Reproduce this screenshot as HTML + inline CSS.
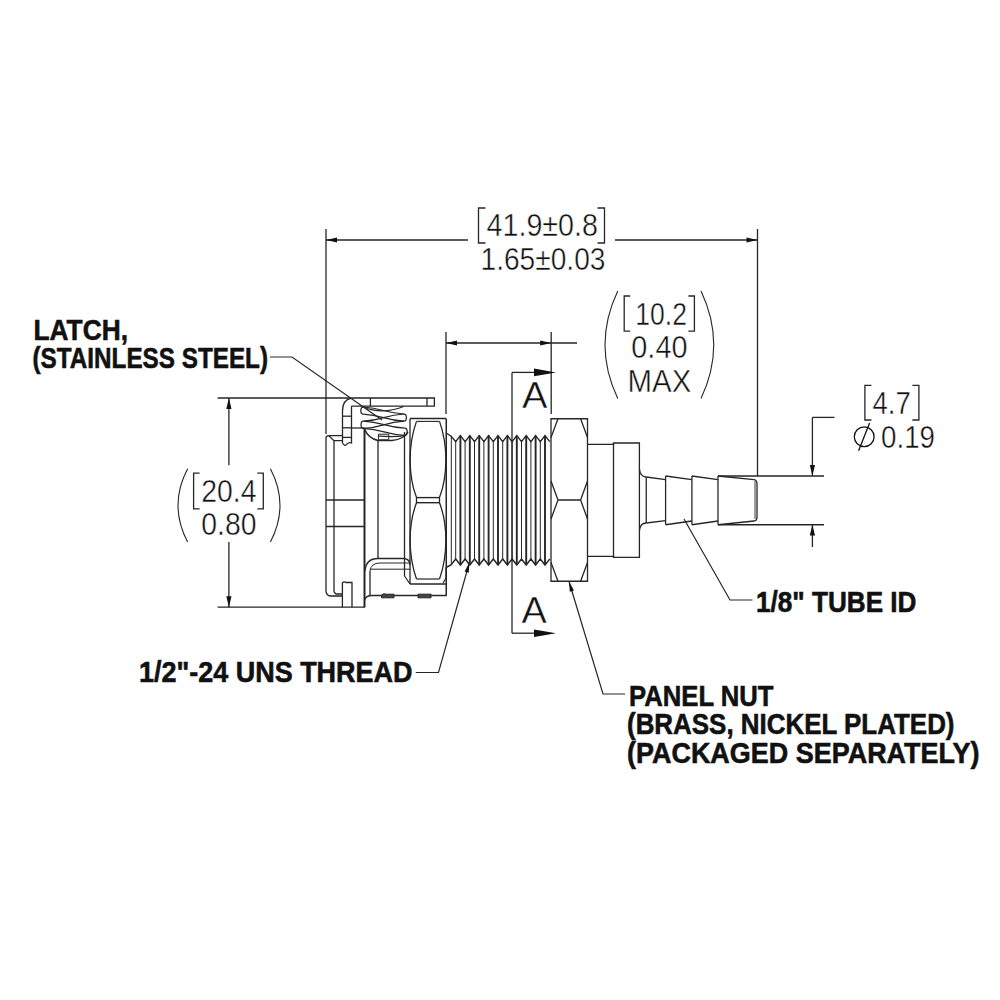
<!DOCTYPE html>
<html><head><meta charset="utf-8"><style>
html,body{margin:0;padding:0;background:#fff;}
svg{display:block;}
text{font-family:"Liberation Sans",sans-serif;}
</style></head><body>
<svg width="1000" height="1000" viewBox="0 0 1000 1000">
<rect width="1000" height="1000" fill="#fff"/>
<line x1="326" y1="229" x2="326" y2="434" stroke="#262626" stroke-width="1.3"/>
<line x1="757.5" y1="229" x2="757.5" y2="476" stroke="#262626" stroke-width="1.3"/>
<line x1="326" y1="240" x2="468" y2="240" stroke="#262626" stroke-width="1.3"/>
<line x1="615" y1="240" x2="757.5" y2="240" stroke="#262626" stroke-width="1.3"/>
<polygon points="326,240 337.0,237.4 337.0,242.6" fill="#111"/>
<polygon points="757.5,240 746.5,242.6 746.5,237.4" fill="#111"/>
<path d="M485.5,208 H478.5 V243 H485.5" stroke="#262626" stroke-width="1.3" fill="none"/>
<path d="M597.5,208 H604.5 V243 H597.5" stroke="#262626" stroke-width="1.3" fill="none"/>
<text x="486.5" y="236.1" font-size="31.8" font-weight="normal" textLength="111.5" lengthAdjust="spacingAndGlyphs" fill="#111" stroke="#fff" stroke-width="0.45">41.9±0.8</text>
<text x="480.5" y="269.7" font-size="31.8" font-weight="normal" textLength="125.0" lengthAdjust="spacingAndGlyphs" fill="#111" stroke="#fff" stroke-width="0.45">1.65±0.03</text>
<line x1="446" y1="332" x2="446" y2="414" stroke="#262626" stroke-width="1.3"/>
<line x1="551.2" y1="332" x2="551.2" y2="414" stroke="#262626" stroke-width="1.3"/>
<line x1="446" y1="343" x2="577" y2="343" stroke="#262626" stroke-width="1.3"/>
<polygon points="446,343 457.0,340.4 457.0,345.6" fill="#111"/>
<polygon points="551.2,343 540.2,345.6 540.2,340.4" fill="#111"/>
<path d="M617.75,291 Q592.25,344.75 617.75,398.5" stroke="#262626" stroke-width="1.1" fill="none"/>
<path d="M701,291 Q726.5,344.75 701,398.5" stroke="#262626" stroke-width="1.1" fill="none"/>
<path d="M630.2,296 H624.2 V331.2 H630.2" stroke="#262626" stroke-width="1.3" fill="none"/>
<path d="M688.4,296 H694.4 V331.2 H688.4" stroke="#262626" stroke-width="1.3" fill="none"/>
<text x="635.3" y="324.9" font-size="31.8" font-weight="normal" textLength="51.700000000000045" lengthAdjust="spacingAndGlyphs" fill="#111" stroke="#fff" stroke-width="0.45">10.2</text>
<text x="631.3" y="358" font-size="31.8" font-weight="normal" textLength="56.200000000000045" lengthAdjust="spacingAndGlyphs" fill="#111" stroke="#fff" stroke-width="0.45">0.40</text>
<text x="627.5" y="392.2" font-size="30.8" font-weight="normal" textLength="63.799999999999955" lengthAdjust="spacingAndGlyphs" fill="#111" stroke="#fff" stroke-width="0.45">MAX</text>
<line x1="217.6" y1="398" x2="351" y2="398" stroke="#262626" stroke-width="1.3"/>
<line x1="217.6" y1="607.2" x2="365" y2="607.2" stroke="#262626" stroke-width="1.3"/>
<line x1="228.9" y1="398" x2="228.9" y2="465.2" stroke="#262626" stroke-width="1.3"/>
<line x1="228.9" y1="542" x2="228.9" y2="607.2" stroke="#262626" stroke-width="1.3"/>
<polygon points="228.9,398 231.5,409.0 226.3,409.0" fill="#111"/>
<polygon points="228.9,607.2 226.3,596.2 231.5,596.2" fill="#111"/>
<path d="M187.6,468.8 Q168.4,505.4 187.6,542" stroke="#262626" stroke-width="1.1" fill="none"/>
<path d="M270.4,468.8 Q289.6,505.4 270.4,542" stroke="#262626" stroke-width="1.1" fill="none"/>
<path d="M199.6,473.2 H193.6 V508.8 H199.6" stroke="#262626" stroke-width="1.3" fill="none"/>
<path d="M257.3,473.2 H263.3 V508.8 H257.3" stroke="#262626" stroke-width="1.3" fill="none"/>
<text x="201.3" y="502" font-size="31.8" font-weight="normal" textLength="55.19999999999999" lengthAdjust="spacingAndGlyphs" fill="#111" stroke="#fff" stroke-width="0.45">20.4</text>
<text x="201.3" y="535.2" font-size="31.8" font-weight="normal" textLength="55.19999999999999" lengthAdjust="spacingAndGlyphs" fill="#111" stroke="#fff" stroke-width="0.45">0.80</text>
<line x1="812.4" y1="417.4" x2="812.4" y2="476" stroke="#262626" stroke-width="1.3"/>
<line x1="812.4" y1="417.4" x2="834.4" y2="417.4" stroke="#262626" stroke-width="1.3"/>
<polygon points="812.4,476 809.8,465.0 815.0,465.0" fill="#111"/>
<line x1="812.4" y1="524.6" x2="812.4" y2="547" stroke="#262626" stroke-width="1.3"/>
<polygon points="812.4,524.6 815.0,535.6 809.8,535.6" fill="#111"/>
<path d="M871.4,385.4 H864.9 V420 H871.4" stroke="#262626" stroke-width="1.3" fill="none"/>
<path d="M912.4,385.4 H918.9 V420 H912.4" stroke="#262626" stroke-width="1.3" fill="none"/>
<text x="872.5" y="413.75" font-size="31.8" font-weight="normal" textLength="38.299999999999955" lengthAdjust="spacingAndGlyphs" fill="#111" stroke="#fff" stroke-width="0.45">4.7</text>
<circle cx="864.2" cy="436.7" r="9.9" stroke="#111" stroke-width="1.3" fill="none"/>
<line x1="858.6" y1="450.7" x2="869.6" y2="423" stroke="#111" stroke-width="1.3"/>
<text x="881" y="448" font-size="31.8" font-weight="normal" textLength="54" lengthAdjust="spacingAndGlyphs" fill="#111" stroke="#fff" stroke-width="0.45">0.19</text>
<line x1="512" y1="372.4" x2="512" y2="633.2" stroke="#262626" stroke-width="1.3"/>
<line x1="512" y1="372.4" x2="535" y2="372.4" stroke="#262626" stroke-width="1.3"/>
<polygon points="556,372.4 534,368.6 534,376.2" fill="#111"/>
<line x1="512" y1="633.2" x2="535" y2="633.2" stroke="#262626" stroke-width="1.3"/>
<polygon points="556,633.2 534,629.4 534,637" fill="#111"/>
<text x="522" y="407.8" font-size="36" font-weight="normal" textLength="25.5" lengthAdjust="spacingAndGlyphs" fill="#111" stroke="#fff" stroke-width="0.45">A</text>
<text x="521.4" y="622.8" font-size="36" font-weight="normal" textLength="25.300000000000068" lengthAdjust="spacingAndGlyphs" fill="#111" stroke="#fff" stroke-width="0.45">A</text>
<text x="33.5" y="339.5" font-size="30.2" font-weight="bold" textLength="94.5" lengthAdjust="spacingAndGlyphs" fill="#111" stroke="#111" stroke-width="0.6">LATCH,</text>
<text x="32.5" y="368" font-size="30.2" font-weight="bold" textLength="235.5" lengthAdjust="spacingAndGlyphs" fill="#111" stroke="#111" stroke-width="0.6">(STAINLESS STEEL)</text>
<text x="139" y="682.4" font-size="30.2" font-weight="bold" textLength="273.5" lengthAdjust="spacingAndGlyphs" fill="#111" stroke="#111" stroke-width="0.6">1/2&quot;-24 UNS THREAD</text>
<text x="756" y="612" font-size="30.2" font-weight="bold" textLength="160.5" lengthAdjust="spacingAndGlyphs" fill="#111" stroke="#111" stroke-width="0.6">1/8&quot; TUBE ID</text>
<text x="629" y="705.6" font-size="30.2" font-weight="bold" textLength="144.5" lengthAdjust="spacingAndGlyphs" fill="#111" stroke="#111" stroke-width="0.6">PANEL NUT</text>
<text x="627" y="734" font-size="30.2" font-weight="bold" textLength="327.5" lengthAdjust="spacingAndGlyphs" fill="#111" stroke="#111" stroke-width="0.6">(BRASS, NICKEL PLATED)</text>
<text x="627" y="763" font-size="30.2" font-weight="bold" textLength="352.5" lengthAdjust="spacingAndGlyphs" fill="#111" stroke="#111" stroke-width="0.6">(PACKAGED SEPARATELY)</text>
<path d="M270,357 H292 L382,420" stroke="#262626" stroke-width="1.2" fill="none"/>
<path d="M415.8,672.5 H438.5 L469.4,562.5" stroke="#262626" stroke-width="1.2" fill="none"/>
<polygon points="469.4,562.5 468.81360599051897,572.7223354506515 464.5775656832232,571.5323932188747" fill="#111"/>
<path d="M684,519 L730,600 H752.5" stroke="#262626" stroke-width="1.2" fill="none"/>
<path d="M569,581.5 L603,694 H625" stroke="#262626" stroke-width="1.2" fill="none"/>
<polygon points="569,581.5 573.9989138895297,590.4359308370795 569.787063037926,591.7088457611196" fill="#111"/>
<path d="M446,433 L451,436 L455.70,441.6 L460.40,435.6 L465.10,441.6 L469.80,435.6 L474.50,441.6 L479.20,435.6 L483.90,441.6 L488.60,435.6 L493.30,441.6 L498.00,435.6 L502.70,441.6 L507.40,435.6 L512.10,441.6 L516.80,435.6 L521.50,441.6 L526.20,435.6 L530.90,441.6 L535.60,435.6 L540.30,441.6 L545.00,435.6 L549.70,441.6" stroke="#262626" stroke-width="1.4" fill="none"/>
<path d="M446,567.5 L451,565 L455.70,559 L460.40,565 L465.10,559 L469.80,565 L474.50,559 L479.20,565 L483.90,559 L488.60,565 L493.30,559 L498.00,565 L502.70,559 L507.40,565 L512.10,559 L516.80,565 L521.50,559 L526.20,565 L530.90,559 L535.60,565 L540.30,559 L545.00,565 L549.70,559" stroke="#262626" stroke-width="1.4" fill="none"/>
<line x1="460.4" y1="435.6" x2="460.4" y2="565" stroke="#262626" stroke-width="1.9"/>
<line x1="469.8" y1="435.6" x2="469.8" y2="565" stroke="#262626" stroke-width="1.9"/>
<line x1="479.2" y1="435.6" x2="479.2" y2="565" stroke="#262626" stroke-width="1.9"/>
<line x1="488.6" y1="435.6" x2="488.6" y2="565" stroke="#262626" stroke-width="1.9"/>
<line x1="498.0" y1="435.6" x2="498.0" y2="565" stroke="#262626" stroke-width="1.9"/>
<line x1="507.4" y1="435.6" x2="507.4" y2="565" stroke="#262626" stroke-width="1.9"/>
<line x1="516.8" y1="435.6" x2="516.8" y2="565" stroke="#262626" stroke-width="1.9"/>
<line x1="526.2" y1="435.6" x2="526.2" y2="565" stroke="#262626" stroke-width="1.9"/>
<line x1="535.6" y1="435.6" x2="535.6" y2="565" stroke="#262626" stroke-width="1.9"/>
<line x1="545.0" y1="435.6" x2="545.0" y2="565" stroke="#262626" stroke-width="1.9"/>
<line x1="455.7" y1="441.6" x2="455.7" y2="559" stroke="#262626" stroke-width="1.0"/>
<line x1="465.1" y1="441.6" x2="465.1" y2="559" stroke="#262626" stroke-width="1.0"/>
<line x1="474.5" y1="441.6" x2="474.5" y2="559" stroke="#262626" stroke-width="1.0"/>
<line x1="483.9" y1="441.6" x2="483.9" y2="559" stroke="#262626" stroke-width="1.0"/>
<line x1="493.3" y1="441.6" x2="493.3" y2="559" stroke="#262626" stroke-width="1.0"/>
<line x1="502.7" y1="441.6" x2="502.7" y2="559" stroke="#262626" stroke-width="1.0"/>
<line x1="512.1" y1="441.6" x2="512.1" y2="559" stroke="#262626" stroke-width="1.0"/>
<line x1="521.5" y1="441.6" x2="521.5" y2="559" stroke="#262626" stroke-width="1.0"/>
<line x1="530.9" y1="441.6" x2="530.9" y2="559" stroke="#262626" stroke-width="1.0"/>
<line x1="540.3" y1="441.6" x2="540.3" y2="559" stroke="#262626" stroke-width="1.0"/>
<line x1="451.3" y1="436" x2="451.3" y2="565" stroke="#262626" stroke-width="1.0"/>
<line x1="410" y1="418.5" x2="446" y2="418.5" stroke="#262626" stroke-width="1.3"/>
<line x1="410" y1="418.5" x2="410" y2="584" stroke="#262626" stroke-width="1.3"/>
<line x1="446.25" y1="418.5" x2="446.25" y2="595.5" stroke="#262626" stroke-width="1.5"/>
<line x1="410" y1="584" x2="446" y2="584" stroke="#262626" stroke-width="1.4"/>
<line x1="416.5" y1="421.4" x2="439.5" y2="421.4" stroke="#262626" stroke-width="1.1"/>
<path d="M416.5,421.4 C408,445 408,475 416.5,497.6 V502.7 C408,525 408,555 416.5,579" stroke="#262626" stroke-width="1.3" fill="none"/>
<path d="M439.5,421.4 C448,445 448,475 439.5,497.6 V502.7 C448,525 448,555 439.5,579" stroke="#262626" stroke-width="1.3" fill="none"/>
<line x1="416.5" y1="497.6" x2="439.5" y2="497.6" stroke="#262626" stroke-width="1.4"/>
<line x1="416.5" y1="502.7" x2="439.5" y2="502.7" stroke="#262626" stroke-width="1.4"/>
<line x1="416.5" y1="579" x2="439.5" y2="579" stroke="#262626" stroke-width="1.2"/>
<path d="M551,418.75 H587.5 V581.25 H551 Z" stroke="#262626" stroke-width="1.3" fill="none"/>
<path d="M558,418.75 L551,437.5 M580.6,418.75 L587.5,437.5" stroke="#262626" stroke-width="1.3" fill="none"/>
<path d="M551,481 L558,500 L551,519 M587.5,481 L580.6,500 L587.5,519 M558,500 H580.6" stroke="#262626" stroke-width="1.3" fill="none"/>
<path d="M551,562.5 L558,581.25 M587.5,562.5 L580.6,581.25" stroke="#262626" stroke-width="1.3" fill="none"/>
<path d="M587.5,444.3 H613.5 V443 H639.4 V468.5 Q640,477 646.25,477" stroke="#262626" stroke-width="1.3" fill="none"/>
<path d="M587.5,556.3 H613.5 V557.4 H639.4 V531 Q640,523 646.25,523" stroke="#262626" stroke-width="1.3" fill="none"/>
<line x1="613.5" y1="443" x2="613.5" y2="557.4" stroke="#262626" stroke-width="1.3"/>
<line x1="639.4" y1="469" x2="639.4" y2="530" stroke="#262626" stroke-width="1.3"/>
<path d="M646.25,477 L665.6,479.6 M646.25,523 L665.6,520.6" stroke="#262626" stroke-width="1.3" fill="none"/>
<line x1="646.25" y1="477" x2="646.25" y2="523" stroke="#262626" stroke-width="1.3"/>
<path d="M665.6,476 L691.9,479.6 M665.6,524.75 L691.9,521" stroke="#262626" stroke-width="1.3" fill="none"/>
<line x1="665.6" y1="476" x2="665.6" y2="524.75" stroke="#262626" stroke-width="1.3"/>
<path d="M691.9,476 L718,479.6 M691.9,524.75 L718,521" stroke="#262626" stroke-width="1.3" fill="none"/>
<line x1="691.9" y1="476" x2="691.9" y2="524.75" stroke="#262626" stroke-width="1.3"/>
<line x1="718" y1="476" x2="718" y2="524.75" stroke="#262626" stroke-width="1.3"/>
<path d="M718,476 L754,479.6 Q757,480 757,484 V517 Q757,521 754,521 L718,524.75" stroke="#262626" stroke-width="1.3" fill="none"/>
<line x1="755" y1="481" x2="755" y2="519" stroke="#262626" stroke-width="0.9"/>
<line x1="718" y1="476" x2="824" y2="476" stroke="#262626" stroke-width="1.3"/>
<line x1="718" y1="524.75" x2="824" y2="524.75" stroke="#262626" stroke-width="1.3"/>
<path d="M326,438 Q326,435.6 329,435.6 H342.5" stroke="#262626" stroke-width="1.3" fill="none"/>
<path d="M329,436 L334,440.7 H342.5" stroke="#262626" stroke-width="1.3" fill="none"/>
<line x1="326" y1="438" x2="326" y2="592" stroke="#262626" stroke-width="1.3"/>
<line x1="334" y1="440.7" x2="334" y2="592" stroke="#262626" stroke-width="1.3"/>
<path d="M326,592 Q327,596 331,596 H342.5" stroke="#262626" stroke-width="1.3" fill="none"/>
<path d="M334,592 L336,594 H342.5" stroke="#262626" stroke-width="1.3" fill="none"/>
<line x1="326" y1="500" x2="364.5" y2="500" stroke="#262626" stroke-width="1.3"/>
<line x1="326" y1="526.5" x2="364.5" y2="526.5" stroke="#262626" stroke-width="1.3"/>
<path d="M351.2,398 Q342.5,400 342.5,411 V443 Q345,447 347,444 Q349,442 351.5,443 V406.2" stroke="#262626" stroke-width="1.3" fill="none"/>
<line x1="342.5" y1="416.2" x2="351.5" y2="416.2" stroke="#262626" stroke-width="1.3"/>
<line x1="342.5" y1="427.8" x2="351.5" y2="427.8" stroke="#262626" stroke-width="1.3"/>
<line x1="342.5" y1="437.4" x2="351.5" y2="437.4" stroke="#262626" stroke-width="1.3"/>
<path d="M351.2,398 H434.4 V406.2 H351.2" stroke="#262626" stroke-width="1.3" fill="none"/>
<line x1="370.4" y1="398" x2="370.4" y2="406.2" stroke="#262626" stroke-width="1.3"/>
<line x1="427" y1="398" x2="427" y2="406.2" stroke="#262626" stroke-width="1.3"/>
<line x1="351.5" y1="428" x2="364.5" y2="428" stroke="#262626" stroke-width="1.3"/>
<line x1="364.5" y1="428" x2="364.5" y2="607.2" stroke="#262626" stroke-width="2.0"/>
<path d="M342.4,607.2 V583 Q344,581 346,582.5 H352 V607.2" stroke="#262626" stroke-width="1.3" fill="none"/>
<path d="M363.20,407.00 C383.60,408.05 383.60,412.95 404.00,414.00" stroke="#262626" stroke-width="1.25" fill="none"/>
<path d="M363.20,414.20 C383.60,415.25 383.60,420.15 404.00,421.20" stroke="#262626" stroke-width="1.25" fill="none"/>
<path d="M404.00,414.00 C383.70,415.08 383.70,420.12 363.40,421.20" stroke="#262626" stroke-width="1.25" fill="none"/>
<path d="M404.00,421.20 C383.70,422.28 383.70,427.32 363.40,428.40" stroke="#262626" stroke-width="1.25" fill="none"/>
<path d="M363.40,421.20 C384.10,422.25 384.10,427.15 404.80,428.20" stroke="#262626" stroke-width="1.25" fill="none"/>
<path d="M363.40,428.40 C384.10,429.45 384.10,434.35 404.80,435.40" stroke="#262626" stroke-width="1.25" fill="none"/>
<path d="M363.20,407.00 C360.00,407.00 360.00,414.20 363.20,414.20" stroke="#262626" stroke-width="1.25" fill="none"/>
<path d="M404.00,414.00 C407.20,414.00 407.20,421.20 404.00,421.20" stroke="#262626" stroke-width="1.25" fill="none"/>
<path d="M363.40,421.20 C360.20,421.20 360.20,428.40 363.40,428.40" stroke="#262626" stroke-width="1.25" fill="none"/>
<path d="M404.80,428.20 C408.00,428.20 408.00,435.40 404.80,435.40" stroke="#262626" stroke-width="1.25" fill="none"/>
<path d="M363.2,407.0 Q382,415 403.6,406.5" stroke="#262626" stroke-width="1.25" fill="none"/>
<path d="M404.8,435.4 C395,437.5 385,436.5 378,436" stroke="#262626" stroke-width="1.2" fill="none"/>
<path d="M364.5,429 Q368,438 378,440.6 H392 Q404,439 408,432" stroke="#262626" stroke-width="1.5" fill="none"/>
<path d="M378.4,434.2 H388.8 V439.8 H378.4 Z" stroke="#262626" stroke-width="1.0" fill="none"/>
<line x1="378" y1="440" x2="378" y2="558.5" stroke="#262626" stroke-width="1.3"/>
<line x1="404.5" y1="432" x2="404.5" y2="576" stroke="#262626" stroke-width="1.3"/>
<path d="M365,571 Q366,558.5 378,558.5 H404 Q410,559 410,565" stroke="#262626" stroke-width="1.3" fill="none"/>
<path d="M370,571 Q371,563 380,563 H410" stroke="#262626" stroke-width="1.0" fill="none"/>
<line x1="370" y1="569.2" x2="410" y2="569.2" stroke="#262626" stroke-width="1.0"/>
<path d="M404.5,576 L410,584" stroke="#262626" stroke-width="1.3" fill="none"/>
<line x1="370" y1="571" x2="370" y2="595.5" stroke="#262626" stroke-width="1.3"/>
<path d="M364.5,600 Q366,595.5 372,595.5 H446.8" stroke="#262626" stroke-width="1.3" fill="none"/>
<path d="M381.5,597.8 V595 Q383.5,592.8 386,594.2 H394 V597.8 Z" stroke="#262626" stroke-width="1.0" fill="#444"/>
<path d="M418,597.8 V594.2 H431 V597.8 Z" stroke="#262626" stroke-width="1.0" fill="#444"/>
<path d="M446,567.5 V578 L443,583" stroke="#262626" stroke-width="1.2" fill="none"/>
</svg>
</body></html>
